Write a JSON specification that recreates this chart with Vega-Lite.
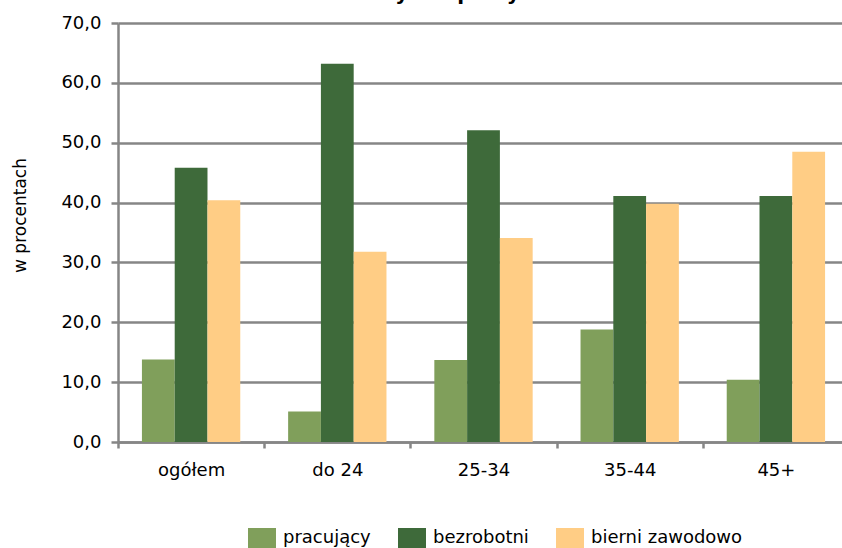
{
  "$schema": "https://vega.github.io/schema/vega-lite/v6.json",
  "autosize": {"type": "none"},
  "width": 724,
  "height": 419,
  "padding": {"left": 118, "top": 23, "right": 0, "bottom": 106},
  "background": "white",
  "title": {
    "text": "Status na rynku pracy w 2012 r.",
    "fontSize": 20,
    "fontWeight": "bold",
    "color": "black",
    "font": "DejaVu Sans",
    "anchor": "middle",
    "frame": "group",
    "dx": -30,
    "dy": -10,
    "offset": 0
  },
  "data": {
    "values": [
      {"grupa": "ogółem", "status": "pracujący", "procent": 13.8},
      {"grupa": "ogółem", "status": "bezrobotni", "procent": 45.8},
      {"grupa": "ogółem", "status": "bierni zawodowo", "procent": 40.4},
      {"grupa": "do 24", "status": "pracujący", "procent": 5.1},
      {"grupa": "do 24", "status": "bezrobotni", "procent": 63.2},
      {"grupa": "do 24", "status": "bierni zawodowo", "procent": 31.8},
      {"grupa": "25-34", "status": "pracujący", "procent": 13.7},
      {"grupa": "25-34", "status": "bezrobotni", "procent": 52.1},
      {"grupa": "25-34", "status": "bierni zawodowo", "procent": 34.1},
      {"grupa": "35-44", "status": "pracujący", "procent": 18.8},
      {"grupa": "35-44", "status": "bezrobotni", "procent": 41.1},
      {"grupa": "35-44", "status": "bierni zawodowo", "procent": 39.8},
      {"grupa": "45+", "status": "pracujący", "procent": 10.4},
      {"grupa": "45+", "status": "bezrobotni", "procent": 41.1},
      {"grupa": "45+", "status": "bierni zawodowo", "procent": 48.5}
    ]
  },
  "mark": {"type": "bar"},
  "encoding": {
    "x": {
      "field": "grupa",
      "type": "nominal",
      "sort": ["ogółem", "do 24", "25-34", "35-44", "45+"],
      "scale": {"range": [0, 731], "paddingInner": 0, "paddingOuter": 0},
      "axis": {
        "title": null,
        "labelAngle": 0,
        "labelFont": "DejaVu Sans",
        "labelFontSize": 18,
        "labelColor": "black",
        "labelPadding": 13,
        "tickBand": "extent",
        "tickSize": 6,
        "tickColor": "#868686",
        "tickWidth": 2.5,
        "domainColor": "#868686",
        "domainWidth": 2.5,
        "grid": false
      }
    },
    "xOffset": {
      "field": "status",
      "type": "nominal",
      "sort": ["pracujący", "bezrobotni", "bierni zawodowo"],
      "scale": {"paddingInner": 0, "paddingOuter": 0.73}
    },
    "y": {
      "field": "procent",
      "type": "quantitative",
      "scale": {"domain": [0, 70], "nice": false},
      "axis": {
        "title": "w procentach",
        "values": [0, 10, 20, 30, 40, 50, 60, 70],
        "labelExpr": "replace(format(datum.value, '.1f'), '.', ',')",
        "labelFont": "DejaVu Sans",
        "labelFontSize": 18,
        "labelColor": "black",
        "labelPadding": 10,
        "tickSize": 7,
        "tickColor": "#868686",
        "tickWidth": 2.5,
        "domainColor": "#868686",
        "domainWidth": 2.5,
        "grid": true,
        "gridColor": "#868686",
        "gridWidth": 2.5,
        "titleFont": "DejaVu Sans",
        "titleFontSize": 17,
        "titleFontWeight": "normal",
        "titleColor": "black",
        "titleAlign": "center",
        "titleBaseline": "middle",
        "titleX": -98,
        "titleY": 192
      }
    },
    "color": {
      "field": "status",
      "type": "nominal",
      "sort": ["pracujący", "bezrobotni", "bierni zawodowo"],
      "scale": {
        "domain": ["pracujący", "bezrobotni", "bierni zawodowo"],
        "range": ["#809F5B", "#3E6A3A", "#FFCD85"]
      },
      "legend": {
        "title": null,
        "orient": "none",
        "direction": "horizontal",
        "legendX": 130,
        "legendY": 501,
        "padding": 0,
        "symbolType": "M-1,-0.714H1V0.714H-1Z",
        "symbolSize": 784,
        "symbolStrokeWidth": 0,
        "symbolOpacity": 1,
        "labelFont": "DejaVu Sans",
        "labelFontSize": 18,
        "labelColor": "black",
        "labelOffset": 7,
        "columnPadding": 27,
        "labelLimit": 400
      }
    }
  },
  "config": {
    "view": {"stroke": null},
    "font": "DejaVu Sans"
  }
}
